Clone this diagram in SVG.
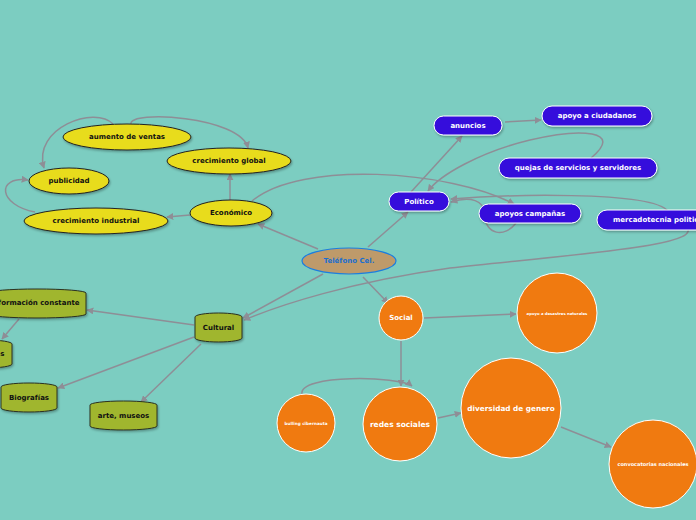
<svg xmlns="http://www.w3.org/2000/svg" width="696" height="520" viewBox="0 0 696 520">
<defs>
<marker id="ah" viewBox="0 0 10 10" refX="9" refY="5" markerWidth="7" markerHeight="7" orient="auto" markerUnits="userSpaceOnUse">
<path d="M0,0 L10,5 L0,10 Z" fill="#8e8e96"/>
</marker>
<filter id="sh" x="-20%" y="-20%" width="140%" height="160%">
<feDropShadow dx="1" dy="1.5" stdDeviation="0.8" flood-color="#000" flood-opacity="0.3"/>
</filter>
</defs>
<style>
.c{fill:none;stroke:#8e8e96;stroke-width:1.5;marker-end:url(#ah)}
.y{fill:#e8dc1e;stroke:#222;stroke-width:1;filter:url(#sh)}
.p{fill:#3510dc;stroke:#fff;stroke-width:1;filter:url(#sh)}
.g{fill:#a0b62e;stroke:#2a3020;stroke-width:1;filter:url(#sh)}
.o{fill:#f07a10;stroke:#fff;stroke-width:1}
text{font-family:"DejaVu Sans",Verdana,sans-serif;font-weight:bold;text-anchor:middle;dominant-baseline:central}
.ty{fill:#111;font-size:7px}
.tp{fill:#fff;font-size:7px}
.tg{fill:#111;font-size:7px}
.to{fill:#fff}
</style>
<rect width="696" height="520" fill="#7ccdc1"/>
<g id="connectors">
<path class="c" d="M318,249 L258,224"/>
<path class="c" d="M368,247 L408,212"/>
<path class="c" d="M323,274 L243,318"/>
<path class="c" d="M363,277 L388,303"/>
<path class="c" d="M230,200 L230,174"/>
<path class="c" d="M190,215 L167,217"/>
<path class="c" d="M252,201 C300,160 450,170 514,204"/>
<path class="c" d="M131,124 C128,110 240,116 248,148"/>
<path class="c" d="M113,124 C95,105 32,128 44,168"/>
<path class="c" d="M35,212 C-2,205 -4,176 28,180"/>
<path class="c" d="M411,192 L462,136"/>
<path class="c" d="M505,122 L541,120"/>
<path class="c" d="M591,158 C625,130 580,128 530,140 C480,152 440,175 428,191"/>
<path class="c" d="M668,211 C650,190 500,195 451,199"/>
<path class="c" d="M516,223 C505,238 485,235 485,215 C485,200 470,196 451,202"/>
<path class="c" d="M686,226 C705,245 600,252 450,268 C350,282 280,305 244,320"/>
<path class="c" d="M194,325 L87,310"/>
<path class="c" d="M194,337 L58,388"/>
<path class="c" d="M201,344 L141,402"/>
<path class="c" d="M19,319 L2,339"/>
<path class="c" d="M424,318 L516,314"/>
<path class="c" d="M401,341 L401,386"/>
<path class="c" d="M302,394 C298,374 400,376 412,386"/>
<path class="c" d="M438,418 L461,413"/>
<path class="c" d="M561,427 L611,447"/>
</g>
<g id="telefono">
<ellipse cx="349" cy="261" rx="47" ry="13" fill="#be9a6a" stroke="#1a7ee0" stroke-width="1.2"/>
<text x="349" y="261" font-size="7px" fill="#1a6fd0">Teléfono Cel.</text>
</g>
<g id="economico"><ellipse class="y" cx="231" cy="213" rx="41" ry="13"/><text class="ty" x="231" y="213">Económico</text></g>
<g id="crecimiento-global"><ellipse class="y" cx="229" cy="161" rx="62" ry="13"/><text class="ty" x="229" y="161">crecimiento global</text></g>
<g id="aumento-ventas"><ellipse class="y" cx="127" cy="137" rx="64" ry="13"/><text class="ty" x="127" y="137">aumento de ventas</text></g>
<g id="publicidad"><ellipse class="y" cx="69" cy="181" rx="40" ry="13"/><text class="ty" x="69" y="181">publicidad</text></g>
<g id="crecimiento-industrial"><ellipse class="y" cx="96" cy="221" rx="72" ry="13"/><text class="ty" x="96" y="221">crecimiento industrial</text></g>
<g id="politico"><rect class="p" x="389" y="192" width="60" height="19" rx="9.5"/><text class="tp" x="419" y="201.5">Político</text></g>
<g id="anuncios"><rect class="p" x="434" y="116" width="68" height="19" rx="9.5"/><text class="tp" x="468" y="125.5">anuncios</text></g>
<g id="apoyo-ciudadanos"><rect class="p" x="542" y="106" width="110" height="20" rx="10"/><text class="tp" x="597" y="116">apoyo a ciudadanos</text></g>
<g id="quejas"><rect class="p" x="499" y="158" width="158" height="20" rx="10"/><text class="tp" x="578" y="168">quejas de servicios y servidores</text></g>
<g id="apoyos-campanas"><rect class="p" x="479" y="204" width="102" height="19" rx="9.5"/><text class="tp" x="530" y="213.5">apoyos campañas</text></g>
<g id="mercadotecnia"><rect class="p" x="597" y="210" width="120" height="20" rx="10"/><text class="tp" x="613" y="220" style="text-anchor:start">mercadotecnia politica</text></g>
<g id="cultural"><path class="g" d="M195,317 A23.5,4 0 0 1 242,317 L242,338 A23.5,4 0 0 1 195,338 Z"/><text class="tg" x="218.5" y="328">Cultural</text></g>
<g id="formacion"><path class="g" d="M-12,293 A49,4 0 0 1 86,293 L86,314 A49,4 0 0 1 -12,314 Z"/><text class="tg" x="35" y="303">Información constante</text></g>
<g id="revistas"><path class="g" d="M-40,344 A26,4 0 0 1 12,344 L12,364 A26,4 0 0 1 -40,364 Z"/><text class="tg" x="4.5" y="353.5" style="text-anchor:end">Revistas</text></g>
<g id="biografias"><path class="g" d="M1,387 A28,4 0 0 1 57,387 L57,408 A28,4 0 0 1 1,408 Z"/><text class="tg" x="29" y="397.5">Biografías</text></g>
<g id="arte-museos"><path class="g" d="M90,405 A33.5,4 0 0 1 157,405 L157,426 A33.5,4 0 0 1 90,426 Z"/><text class="tg" x="123.5" y="415.5">arte, museos</text></g>
<g id="social"><circle class="o" cx="401" cy="318" r="22"/><text class="to" x="401" y="318" font-size="7px">Social</text></g>
<g id="apoyo-desastres"><circle class="o" cx="557" cy="313" r="40"/><text class="to" x="557" y="313" font-size="3.8px">apoyo a desastres naturales</text></g>
<g id="bulling"><circle class="o" cx="306" cy="423" r="29"/><text class="to" x="306" y="423" font-size="4.2px">bulling cibernauta</text></g>
<g id="redes-sociales"><circle class="o" cx="400" cy="424" r="37"/><text class="to" x="400" y="424" font-size="7.5px">redes sociales</text></g>
<g id="diversidad"><circle class="o" cx="511" cy="408" r="50"/><text class="to" x="511" y="408" font-size="7.3px">diversidad de genero</text></g>
<g id="convocatorias"><circle class="o" cx="653" cy="464" r="44"/><text class="to" x="653" y="464" font-size="5px">convocatorias nacionales</text></g>
</svg>
